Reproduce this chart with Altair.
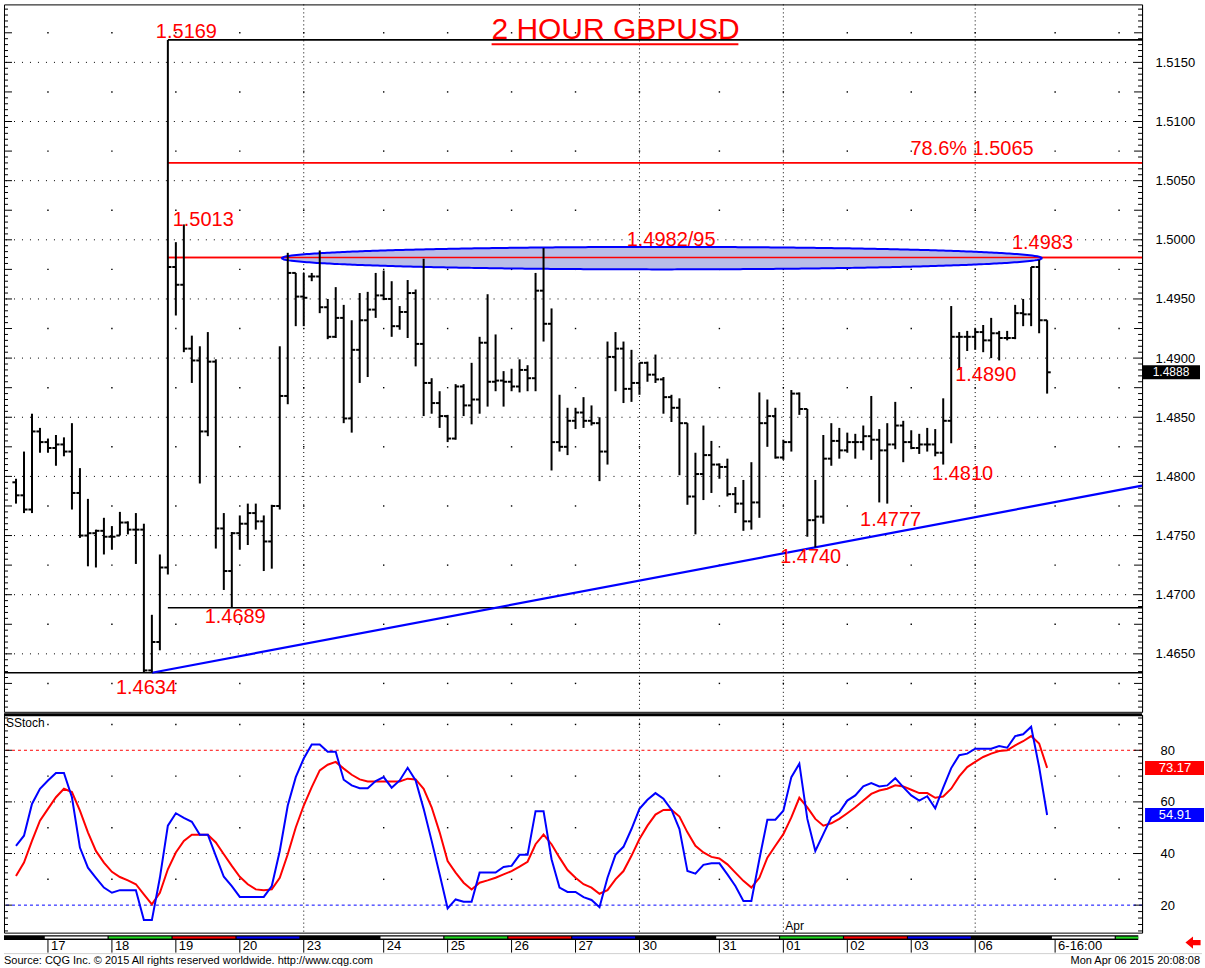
import altair as alt
import pandas as pd
import numpy as np

# ---------------- data ----------------
opens = [1.4795, 1.4784, 1.4772, 1.4838, 1.4829, 1.4824, 1.4827, 1.4821, 1.4786, 1.4750,
         1.4752, 1.4754, 1.4749, 1.4750, 1.4761, 1.4755, 1.4755, 1.4636, 1.4660, 1.4723,
         1.4977, 1.4962, 1.4908, 1.4898, 1.4838, 1.4897, 1.4756, 1.4720, 1.4752, 1.4760,
         1.4769, 1.4762, 1.4745, 1.4775, 1.4868, 1.4972, 1.4952, 1.4969, 1.4969, 1.4943,
         1.4918, 1.4934, 1.4849, 1.4907, 1.4932, 1.4941, 1.4953, 1.4950, 1.4927, 1.4939,
         1.4955, 1.4912, 1.4879, 1.4862, 1.4851, 1.4832, 1.4876, 1.4860, 1.4865, 1.4913,
         1.4880, 1.4881, 1.4880, 1.4876, 1.4890, 1.4883, 1.4957, 1.4929, 1.4829, 1.4825,
         1.4847, 1.4854, 1.4847, 1.4845, 1.4821, 1.4901, 1.4908, 1.4874, 1.4879, 1.4896,
         1.4886, 1.4882, 1.4867, 1.4858, 1.4845, 1.4783, 1.4802, 1.4818, 1.4810, 1.4808,
         1.4785, 1.4777, 1.4762, 1.4778, 1.4845, 1.4851, 1.4816, 1.4829, 1.4870, 1.4857,
         1.4763, 1.4766, 1.4815, 1.4830, 1.4822, 1.4829, 1.4829, 1.4834, 1.4831, 1.4822,
         1.4827, 1.4843, 1.4829, 1.4824, 1.4827, 1.4827, 1.4820, 1.4847, 1.4918, 1.4918,
         1.4918, 1.4922, 1.4915, 1.4921, 1.4917, 1.4917, 1.4938, 1.4937, 1.4977, 1.4932]
highs = [1.4798, 1.4821, 1.4853, 1.4841, 1.4832, 1.4835, 1.4833, 1.4845, 1.4807, 1.4781,
         1.4755, 1.4765, 1.4758, 1.4770, 1.4762, 1.4769, 1.4760, 1.4683, 1.4734, 1.5169,
         1.4998, 1.5013, 1.4919, 1.4910, 1.4922, 1.4899, 1.4769, 1.4753, 1.4767, 1.4777,
         1.4777, 1.4767, 1.4776, 1.4910, 1.4989, 1.4972, 1.4972, 1.4972, 1.4991, 1.4950,
         1.4960, 1.4945, 1.4932, 1.4955, 1.4956, 1.4972, 1.4974, 1.4965, 1.4944, 1.4966,
         1.4958, 1.4984, 1.4883, 1.4872, 1.4852, 1.4878, 1.4878, 1.4896, 1.4918, 1.4954,
         1.4920, 1.4889, 1.4891, 1.4899, 1.4894, 1.4972, 1.4993, 1.4942, 1.4869, 1.4858,
         1.4858, 1.4867, 1.4860, 1.4850, 1.4914, 1.4922, 1.4914, 1.4907, 1.4896, 1.4897,
         1.4903, 1.4884, 1.4869, 1.4866, 1.4845, 1.4820, 1.4843, 1.4830, 1.4811, 1.4815,
         1.4791, 1.4797, 1.4812, 1.4871, 1.4865, 1.4858, 1.4831, 1.4873, 1.4871, 1.4857,
         1.4797, 1.4835, 1.4845, 1.4841, 1.4837, 1.4836, 1.4843, 1.4868, 1.4840, 1.4845,
         1.4863, 1.4847, 1.4839, 1.4836, 1.4841, 1.4840, 1.4866, 1.4944, 1.4922, 1.4923,
         1.4925, 1.4928, 1.4934, 1.4923, 1.4923, 1.4945, 1.4950, 1.4977, 1.4983, 1.4932]
lows = [1.4777, 1.4769, 1.4769, 1.4820, 1.4820, 1.4809, 1.4817, 1.4772, 1.4748, 1.4724,
        1.4723, 1.4734, 1.4738, 1.4750, 1.4751, 1.4726, 1.4634, 1.4634, 1.4653, 1.4717,
        1.4936, 1.4905, 1.4879, 1.4794, 1.4834, 1.4739, 1.4704, 1.4689, 1.4738, 1.4742,
        1.4755, 1.4720, 1.4722, 1.4772, 1.4861, 1.4927, 1.4927, 1.4965, 1.4938, 1.4916,
        1.4917, 1.4845, 1.4837, 1.4879, 1.4884, 1.4934, 1.4949, 1.4918, 1.4924, 1.4917,
        1.4893, 1.4851, 1.4853, 1.4841, 1.4829, 1.4831, 1.4851, 1.4844, 1.4853, 1.4859,
        1.4872, 1.4859, 1.4872, 1.4871, 1.4872, 1.4872, 1.4914, 1.4805, 1.4821, 1.4818,
        1.4840, 1.4841, 1.4843, 1.4796, 1.4810, 1.4872, 1.4862, 1.4863, 1.4869, 1.4880,
        1.4879, 1.4853, 1.4846, 1.4801, 1.4776, 1.4751, 1.4780, 1.4786, 1.4798, 1.4783,
        1.4769, 1.4754, 1.4755, 1.4765, 1.4825, 1.4815, 1.4814, 1.4821, 1.4852, 1.4749,
        1.4740, 1.4760, 1.4809, 1.4815, 1.4820, 1.4815, 1.4822, 1.4814, 1.4778, 1.4777,
        1.4823, 1.4812, 1.4823, 1.4819, 1.4821, 1.4817, 1.4810, 1.4828, 1.4890, 1.4906,
        1.4907, 1.4905, 1.4900, 1.4898, 1.4915, 1.4916, 1.4927, 1.4927, 1.4921, 1.4870]
closes = [1.4784, 1.4772, 1.4838, 1.4829, 1.4824, 1.4827, 1.4821, 1.4786, 1.4750, 1.4752,
          1.4754, 1.4749, 1.4749, 1.4761, 1.4755, 1.4755, 1.4636, 1.4660, 1.4723, 1.4977,
          1.4962, 1.4908, 1.4898, 1.4838, 1.4897, 1.4756, 1.4720, 1.4752, 1.4760, 1.4769,
          1.4762, 1.4745, 1.4775, 1.4868, 1.4972, 1.4952, 1.4951, 1.4969, 1.4943, 1.4918,
          1.4934, 1.4849, 1.4907, 1.4932, 1.4941, 1.4953, 1.4950, 1.4927, 1.4939, 1.4955,
          1.4912, 1.4879, 1.4862, 1.4851, 1.4832, 1.4876, 1.4860, 1.4865, 1.4913, 1.4880,
          1.4881, 1.4880, 1.4876, 1.4890, 1.4883, 1.4957, 1.4929, 1.4829, 1.4825, 1.4847,
          1.4854, 1.4847, 1.4845, 1.4821, 1.4901, 1.4908, 1.4874, 1.4879, 1.4896, 1.4886,
          1.4882, 1.4867, 1.4858, 1.4845, 1.4783, 1.4802, 1.4818, 1.4810, 1.4808, 1.4785,
          1.4777, 1.4762, 1.4778, 1.4845, 1.4851, 1.4816, 1.4829, 1.4870, 1.4857, 1.4763,
          1.4766, 1.4815, 1.4830, 1.4822, 1.4829, 1.4829, 1.4834, 1.4831, 1.4822, 1.4827,
          1.4843, 1.4829, 1.4824, 1.4827, 1.4827, 1.4820, 1.4847, 1.4918, 1.4918, 1.4918,
          1.4922, 1.4915, 1.4921, 1.4917, 1.4917, 1.4938, 1.4937, 1.4977, 1.4932, 1.4888]

stoch_k = [43.0, 46.9, 59.2, 65.1, 68.3, 71.2, 71.2, 61.8, 42.3, 34.5,
           30.6, 26.8, 24.8, 25.8, 25.8, 25.8, 14.2, 14.2, 30.6, 50.8,
           55.6, 53.8, 52.3, 47.3, 47.3, 39.1, 31.0, 27.4, 23.2, 23.2,
           23.2, 23.2, 27.4, 41.0, 58.6, 69.6, 76.8, 82.2, 82.2, 79.4,
           79.4, 68.6, 66.4, 65.3, 65.3, 68.1, 69.6, 65.5, 68.3, 73.2,
           68.3, 57.3, 44.9, 32.0, 18.7, 22.2, 21.3, 21.3, 32.6, 32.6,
           32.6, 34.8, 35.2, 39.5, 39.5, 56.4, 56.4, 37.8, 26.8, 25.1,
           25.1, 23.1, 22.0, 19.2, 30.6, 39.5, 42.6, 49.5, 57.3, 60.8,
           63.4, 61.2, 57.0, 49.5, 33.2, 32.2, 35.6, 36.2, 36.2, 31.9,
           27.4, 21.6, 21.6, 37.8, 53.1, 53.1, 56.6, 69.6, 74.8, 53.4,
           41.0, 47.5, 54.0, 56.0, 60.5, 62.5, 66.0, 67.3, 66.0, 66.4,
           69.2, 65.7, 62.5, 60.5, 62.2, 57.5, 65.5, 73.1, 78.1, 78.7,
           80.6, 80.6, 80.6, 81.6, 81.0, 85.5, 86.2, 89.1, 73.5, 54.91]
stoch_d = [31.3, 36.5, 44.9, 52.7, 57.3, 61.8, 65.1, 63.8, 56.6, 48.2,
           41.0, 36.5, 32.9, 30.9, 29.6, 28.1, 24.2, 20.3, 24.8, 33.9,
           40.4, 44.9, 47.3, 47.3, 47.3, 44.3, 39.7, 35.2, 31.0, 28.1,
           26.1, 25.8, 26.1, 30.6, 39.7, 50.1, 58.6, 65.7, 72.2, 74.4,
           75.5, 72.9, 70.5, 68.7, 67.9, 67.9, 67.9, 67.9, 67.9, 69.0,
           68.7, 65.1, 57.9, 48.2, 37.1, 32.6, 28.7, 26.1, 28.7, 29.6,
           30.6, 31.9, 33.2, 34.9, 36.8, 43.6, 47.3, 43.6, 38.4, 33.6,
           30.6, 28.1, 26.8, 24.4, 25.8, 30.0, 33.2, 39.1, 45.6, 50.8,
           55.1, 56.9, 57.0, 54.3, 48.2, 43.0, 40.4, 38.7, 38.1, 35.8,
           32.6, 29.4, 26.8, 30.6, 38.4, 43.0, 47.5, 54.0, 61.6, 57.9,
           53.4, 50.8, 51.7, 53.4, 55.6, 57.9, 60.5, 63.1, 64.4, 65.1,
           66.4, 66.0, 64.7, 63.4, 63.4, 61.6, 62.1, 65.1, 69.9, 73.5,
           75.5, 77.4, 78.7, 79.7, 80.0, 81.9, 83.5, 85.5, 82.6, 73.17]

day_labels = ["17", "18", "19", "20", "23", "24", "25", "26", "27", "30",
              "31", "01", "02", "03", "06", "6-16:00", ""]
day_first_bar = [4, 12, 20, 28, 36, 46, 54, 62, 70, 78, 88, 96, 104, 112, 120, 130, 138]
day_colors = ["white", "#22dd22", "red", "blue", "black", "white", "#22dd22", "red", "blue",
              "black", "white", "#22dd22", "red", "blue", "black", "white", "#22dd22"]
week_first_bar = [36, 78, 96, 120]

price_majors = [1.4650, 1.4700, 1.4750, 1.4800, 1.4850, 1.4900, 1.4950,
                1.5000, 1.5050, 1.5100, 1.5150]
price_halves = [1.4625, 1.4675, 1.4725, 1.4775, 1.4825, 1.4875, 1.4925,
                1.4975, 1.5025, 1.5075, 1.5125, 1.5175]
stoch_majors = [20, 40, 60, 80]

level_price = [1.5169, 1.5065, 1.4985, 1.4689, 1.4634]
level_from_bar = [19, 19, 19, 19, -1.5]
level_color = ["black", "red", "red", "black", "black"]

trend_bar = [17, 100]
trend_price = [1.4634, 1.4740]

zone_bars = [33.2, 128.4]
zone_prices = [1.4975, 1.4994]

ann_text = ["1.5169", "1.5013", "78.6% 1.5065", "1.4982/95", "1.4983", "1.4890",
            "1.4810", "1.4777", "1.4740", "1.4689", "1.4634"]
# label anchor (left edge, vertical centre) in bar / price units
ann_bar = [17.5, 19.6, 111.9, 76.4, 124.6, 117.5, 114.6, 105.6, 95.6, 23.6, 12.5]
ann_price = [1.5176, 1.5017, 1.5077, 1.5000, 1.4997, 1.4886, 1.4802, 1.4763, 1.4732, 1.4681, 1.4621]

last_price = 1.4888
stoch_levels = [80, 20]
stoch_level_colors = ["red", "blue"]

# ---------------- layout constants ----------------
W = 1139
H_PRICE = 708
H_STOCH = 218
H_STRIP = 19
X_MIN, X_MAX = -1.5, 140.875
FONT = "Liberation Sans"

xs = alt.Scale(domain=[X_MIN, X_MAX], nice=False, zero=False)
ps = alt.Scale(domain=[1.4601, 1.5199], nice=False, zero=False)
ss = alt.Scale(domain=[9.35, 93.74], nice=False, zero=False)

price_axis = alt.Axis(
    orient="right", values=price_majors, format=".4f", ticks=False, domain=True,
    domainColor="black", domainWidth=1, labelFont=FONT, labelFontSize=13,
    labelColor="black", labelPadding=13, grid=False, title=None, labelFlush=False)
stoch_axis = alt.Axis(
    orient="right", values=stoch_majors, format="d", ticks=False, domain=True,
    domainColor="black", domainWidth=1, labelFont=FONT, labelFontSize=13,
    labelColor="black", labelPadding=18, grid=False, title=None, labelFlush=False)


def X(f):
    return alt.X(f, type="quantitative", scale=xs, axis=None)


def P(f):
    return alt.Y(f, type="quantitative", scale=ps, axis=price_axis, title=None)


def S(f):
    return alt.Y(f, type="quantitative", scale=ss, axis=stoch_axis, title=None)


n = len(opens)
ohlc = pd.DataFrame({"k": np.arange(n), "open": opens, "high": highs, "low": lows, "close": closes})
ohlc["kl"] = ohlc["k"] - 0.45
ohlc["kr"] = ohlc["k"] + 0.45

# ---------------- price panel ----------------
grid_major = alt.Chart(pd.DataFrame({"p": price_majors})).mark_rule(
    color="black", strokeDash=[1, 7], strokeWidth=1).encode(y=P("p"))

dots_df = pd.DataFrame([(k, p) for k in day_first_bar for p in price_halves], columns=["k", "p"])
grid_dots = alt.Chart(dots_df).mark_square(size=2, color="black", opacity=1).encode(
    x=X("k"), y=P("p"))

week_df = pd.DataFrame({"k": week_first_bar})
week_lines = alt.Chart(week_df).mark_rule(color="black", strokeDash=[1, 3], strokeWidth=1).encode(
    x=X("k"))

minor_ticks_p = np.round(np.arange(1.4605, 1.5199, 0.0005), 4)
tick_df = pd.DataFrame({"p": minor_ticks_p})
tick_df["major"] = np.isclose((tick_df["p"] * 10000) % 25, 0) | np.isclose((tick_df["p"] * 10000) % 25, 25)
ticks_r_minor = alt.Chart(tick_df[~tick_df["major"]]).mark_rule(color="black").encode(
    y=P("p"), x=alt.value(W - 4), x2=alt.value(W))
ticks_r_major = alt.Chart(tick_df[tick_df["major"]]).mark_rule(color="black").encode(
    y=P("p"), x=alt.value(W - 8), x2=alt.value(W))
ticks_l_minor = alt.Chart(tick_df[~tick_df["major"]]).mark_rule(color="black").encode(
    y=P("p"), x=alt.value(0), x2=alt.value(4))
ticks_l_major = alt.Chart(tick_df[tick_df["major"]]).mark_rule(color="black").encode(
    y=P("p"), x=alt.value(0), x2=alt.value(8))

lvl_df = pd.DataFrame({"p": level_price, "k0": level_from_bar, "c": level_color})
lvl_df["k1"] = X_MAX
levels = alt.Chart(lvl_df).mark_rule(strokeWidth=1.6).encode(
    x=X("k0"), x2="k1", y=P("p"), color=alt.Color("c:N", scale=None))

# resistance zone ellipse
cx = (zone_bars[0] + zone_bars[1]) / 2
ax = (zone_bars[1] - zone_bars[0]) / 2
cy = (zone_prices[0] + zone_prices[1]) / 2
by = (zone_prices[1] - zone_prices[0]) / 2
u = np.linspace(-1, 1, 301)
half = by * np.sqrt(np.clip(1 - u ** 2, 0, 1))
ell = pd.DataFrame({"k": cx + ax * u, "top": cy + half, "bot": cy - half})
ell_fill = alt.Chart(ell).mark_area(color="#b9bde8", opacity=1).encode(
    x=X("k"), y=P("top"), y2="bot")
ell_top = alt.Chart(ell).mark_line(color="#0000ff", strokeWidth=2).encode(x=X("k"), y=P("top"))
ell_bot = alt.Chart(ell).mark_line(color="#0000ff", strokeWidth=2).encode(x=X("k"), y=P("bot"))
red_zone_line = alt.Chart(lvl_df[lvl_df["p"] == 1.4985]).mark_rule(strokeWidth=1.6, color="red").encode(
    x=X("k0"), x2="k1", y=P("p"))

slope = (trend_price[1] - trend_price[0]) / (trend_bar[1] - trend_bar[0])
trend_df = pd.DataFrame({"k": [trend_bar[0], X_MAX],
                         "p": [trend_price[0], trend_price[0] + slope * (X_MAX - trend_bar[0])]})
trend = alt.Chart(trend_df).mark_line(color="#0000ff", strokeWidth=2.2).encode(x=X("k"), y=P("p"))

hl = alt.Chart(ohlc).mark_rule(color="black", strokeWidth=2).encode(x=X("k"), y=P("low"), y2="high")
op = alt.Chart(ohlc).mark_rule(color="black", strokeWidth=2).encode(x=X("kl"), x2="k", y=P("open"))
cl = alt.Chart(ohlc).mark_rule(color="black", strokeWidth=2).encode(x=X("k"), x2="kr", y=P("close"))

ann_df = pd.DataFrame({"k": ann_bar, "p": ann_price, "t": ann_text})
ann = alt.Chart(ann_df).mark_text(color="#ff0000", fontSize=20, font=FONT, align="left",
                                  baseline="middle").encode(x=X("k"), y=P("p"), text="t")

title_df = pd.DataFrame({"t": ["2 HOUR GBPUSD"]})
title_txt = alt.Chart(title_df).mark_text(color="#ff0000", fontSize=30, font=FONT, align="center",
                                          baseline="middle").encode(
    x=alt.value(612), y=alt.value(26), text="t")
title_ul = alt.Chart(title_df).mark_rule(color="#ff0000", strokeWidth=2).encode(
    x=alt.value(488), x2=alt.value(735), y=alt.value(40))

last_df = pd.DataFrame({"p": [last_price], "t": [f"{last_price:.4f}"]})
last_box = alt.Chart(last_df).mark_rect(color="black", yOffset=-7, y2Offset=7).encode(
    x=alt.value(W), x2=alt.value(W + 58), y=P("p"), y2="p")
last_txt = alt.Chart(last_df).mark_text(color="white", fontSize=12, font=FONT, align="center",
                                        baseline="middle").encode(
    x=alt.value(W + 29), y=P("p"), text="t")

price_chart = alt.layer(
    grid_major, grid_dots, week_lines, ticks_r_minor, ticks_r_major, ticks_l_minor, ticks_l_major,
    levels, ell_fill, red_zone_line, ell_top, ell_bot, trend, hl, op, cl, ann, title_txt, title_ul,
    last_box, last_txt
).properties(width=W, height=H_PRICE, view=alt.ViewBackground(stroke="black", strokeWidth=1))

# ---------------- stochastic panel ----------------
st_df = pd.DataFrame({"k": np.arange(n), "K": stoch_k, "D": stoch_d})

s_grid = alt.Chart(pd.DataFrame({"v": [40, 60]})).mark_rule(
    color="black", strokeDash=[1, 7]).encode(y=S("v"))
s_lv = alt.Chart(pd.DataFrame({"v": stoch_levels, "c": stoch_level_colors})).mark_rule(
    strokeDash=[3, 3], strokeWidth=1).encode(y=S("v"), color=alt.Color("c:N", scale=None))
s_dots_df = pd.DataFrame([(k, v) for k in day_first_bar for v in [30, 50, 70, 90]], columns=["k", "v"])
s_dots = alt.Chart(s_dots_df).mark_square(size=2, color="black", opacity=1).encode(x=X("k"), y=S("v"))
s_week = alt.Chart(week_df).mark_rule(color="black", strokeDash=[1, 3]).encode(x=X("k"))

s_tick_df = pd.DataFrame({"v": np.arange(10, 93.7, 2.5)})
s_tick_df["major"] = np.isclose(s_tick_df["v"] % 20, 0)
s_tr_min = alt.Chart(s_tick_df[~s_tick_df["major"]]).mark_rule(color="black").encode(
    y=S("v"), x=alt.value(W - 4), x2=alt.value(W))
s_tr_maj = alt.Chart(s_tick_df[s_tick_df["major"]]).mark_rule(color="black").encode(
    y=S("v"), x=alt.value(W - 8), x2=alt.value(W))
s_tl_min = alt.Chart(s_tick_df[~s_tick_df["major"]]).mark_rule(color="black").encode(
    y=S("v"), x=alt.value(0), x2=alt.value(4))
s_tl_maj = alt.Chart(s_tick_df[s_tick_df["major"]]).mark_rule(color="black").encode(
    y=S("v"), x=alt.value(0), x2=alt.value(8))

d_line = alt.Chart(st_df).mark_line(color="#ff0000", strokeWidth=2).encode(x=X("k"), y=S("D"))
k_line = alt.Chart(st_df).mark_line(color="#0000ff", strokeWidth=2).encode(x=X("k"), y=S("K"))

box_df = pd.DataFrame({"v": [stoch_d[-1], stoch_k[-1]], "c": ["#ff0000", "#0000ff"],
                       "t": [f"{stoch_d[-1]:.2f}", f"{stoch_k[-1]:.2f}"]})
s_box = alt.Chart(box_df).mark_rect(yOffset=-7, y2Offset=7).encode(
    x=alt.value(W + 3), x2=alt.value(W + 62), y=S("v"), y2="v", color=alt.Color("c:N", scale=None))
s_box_t = alt.Chart(box_df).mark_text(color="white", fontSize=13, font=FONT, align="center",
                                      baseline="middle").encode(
    x=alt.value(W + 33), y=S("v"), text="t")

divider = alt.Chart(pd.DataFrame({"a": [0]})).mark_rule(color="black", strokeWidth=3).encode(
    x=alt.value(0), x2=alt.value(W), y=alt.value(0))
s_label = alt.Chart(pd.DataFrame({"t": ["SStoch"]})).mark_text(
    fontSize=12, font=FONT, align="left", baseline="middle", color="black").encode(
    x=alt.value(2), y=alt.value(8), text="t")
apr_label = alt.Chart(pd.DataFrame({"k": [96], "t": ["Apr"]})).mark_text(
    fontSize=12, font=FONT, align="left", baseline="middle", color="black", dx=2).encode(
    x=X("k"), y=alt.value(H_STOCH - 7), text="t")

stoch_chart = alt.layer(
    s_grid, s_lv, s_dots, s_week, s_tr_min, s_tr_maj, s_tl_min, s_tl_maj,
    d_line, k_line, s_box, s_box_t, divider, s_label, apr_label
).properties(width=W, height=H_STOCH, view=alt.ViewBackground(stroke="black", strokeWidth=1))

# ---------------- date strip ----------------
seg_start = [b - 0.4 for b in day_first_bar]
seg_end = [b - 0.55 for b in day_first_bar[1:]] + [140.4]
seg_df = pd.DataFrame({"k0": seg_start, "k1": seg_end, "c": day_colors})
band = alt.Chart(pd.DataFrame({"k0": [X_MIN], "k1": [140.4]})).mark_rule(
    color="black", strokeWidth=5).encode(x=X("k0"), x2="k1", y=alt.value(3))
segs = alt.Chart(seg_df).mark_rule(strokeWidth=2).encode(
    x=X("k0"), x2="k1", y=alt.value(3), color=alt.Color("c:N", scale=None))
lab_df = pd.DataFrame({"k": day_first_bar[:-1], "t": day_labels[:-1]})
d_ticks = alt.Chart(lab_df).mark_rule(color="black").encode(
    x=X("k"), y=alt.value(5), y2=alt.value(18))
d_text = alt.Chart(lab_df).mark_text(fontSize=13, font=FONT, align="left", baseline="middle",
                                     dx=3, color="black").encode(
    x=X("k"), y=alt.value(11), text="t")
bottom_line = alt.Chart(pd.DataFrame({"a": [0]})).mark_rule(color="#d0d0d0").encode(
    x=alt.value(0), x2=alt.value(W + 60), y=alt.value(19))
foot_l = alt.Chart(pd.DataFrame({"t": ["Source: CQG Inc. \u00a9 2015 All rights reserved worldwide. http://www.cqg.com"]})).mark_text(
    fontSize=11, font=FONT, align="left", baseline="middle", color="black").encode(
    x=alt.value(0), y=alt.value(26), text="t")
foot_r = alt.Chart(pd.DataFrame({"t": ["Mon Apr 06 2015 20:08:08"]})).mark_text(
    fontSize=11, font=FONT, align="right", baseline="middle", color="black").encode(
    x=alt.value(W + 58), y=alt.value(26), text="t")
arrow = alt.Chart(pd.DataFrame({"a": [0]})).mark_point(
    shape="M-1,0L0,-0.8L0,-0.35L1,-0.35L1,0.35L0,0.35L0,0.8Z", filled=True, color="#ff0000",
    size=230, opacity=1).encode(x=alt.value(W + 51), y=alt.value(8))

strip_chart = alt.layer(band, segs, d_ticks, d_text, bottom_line, foot_l, foot_r, arrow).properties(
    width=W, height=H_STRIP, view=alt.ViewBackground(stroke="transparent"))

chart = alt.vconcat(price_chart, stoch_chart, strip_chart, spacing=0).properties(
    padding={"left": 1, "top": 3, "right": 0, "bottom": 0},
    background="white"
).configure_text(font=FONT)

chart.save("out.html", embed_options={"renderer": "svg", "actions": False})
